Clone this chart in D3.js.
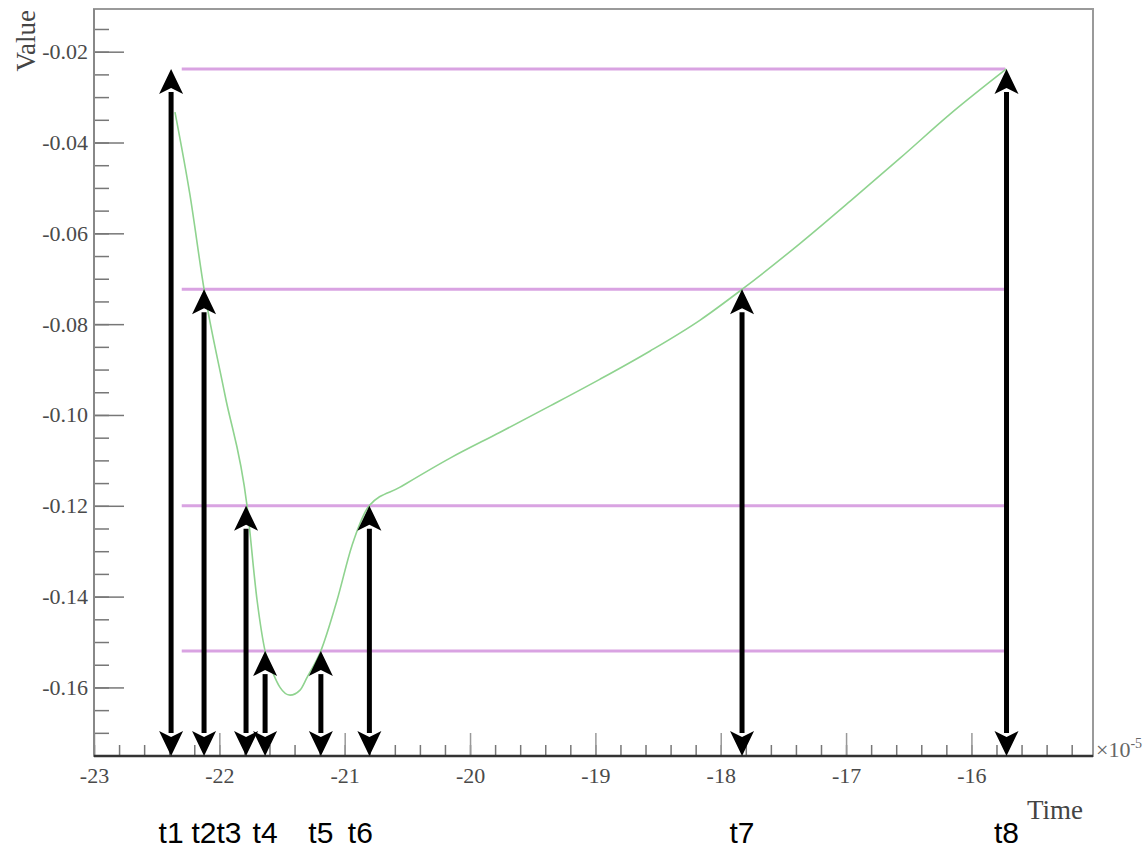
<!DOCTYPE html>
<html lang="en">
<head>
<meta charset="utf-8">
<title>Value vs Time</title>
<script src="https://cdn.jsdelivr.net/npm/d3@7"></script>
<style>
  body { margin: 0; background: #fff; }
  svg { display: block; }
  .tick text { font-family: "Liberation Serif", "DejaVu Serif", serif; fill: #4a4a4a; }
</style>
</head>
<body>
<script>
// curve (time in units of 1e-5, value)
var curveT = [-22.354, -22.234, -22.122, -21.955, -21.779, -21.699, -21.635, -21.571, -21.516, -21.436,
              -21.356, -21.300, -21.191, -21.061, -20.941, -20.805, -20.558, -20.159, -19.760, -19.361,
              -18.962, -18.563, -18.164, -17.828, -17.366, -16.967, -16.567, -16.168, -15.721];
var curveV = [-0.0333, -0.0516, -0.0723, -0.0956, -0.1200, -0.1408, -0.1520, -0.1569, -0.1600, -0.1617,
              -0.1606, -0.1578, -0.1520, -0.1408, -0.1287, -0.1200, -0.1159, -0.1095, -0.1038, -0.0980,
              -0.0921, -0.0859, -0.0791, -0.0723, -0.0622, -0.0529, -0.0434, -0.0337, -0.0238];

// threshold lines
var levels = [-0.0238, -0.0723, -0.12, -0.152];
var levelSpan = [-22.30, -15.73];

// crossing times marked by arrows
var markNames = ["t1", "t2", "t3", "t4", "t5", "t6", "t7", "t8"];
var markT = [-22.385, -22.122, -21.787, -21.635, -21.19, -20.803, -17.83, -15.72];
var markV = [-0.0238, -0.0723, -0.12, -0.152, -0.152, -0.12, -0.0723, -0.0238];
var markLabelShift = [0, 0, -17, 0, 0, -9, 0, 0];

var xMajor = d3.range(-23, -15.5, 1);
var xMinor = d3.range(-23, -15.05, 0.2).map(function(d) { return Math.round(d * 10) / 10; });
var yMajor = [-0.16, -0.14, -0.12, -0.10, -0.08, -0.06, -0.04, -0.02];
var yMinor = d3.range(-0.175, -0.0105, 0.005).map(function(d) { return Math.round(d * 1000) / 1000; });

var w = 1143, h = 848;
var pLeft = 94, pRight = 1093, pTop = 9, pBottom = 756;

var x = d3.scaleLinear().domain([-23, -15.03]).range([pLeft, pRight]);
var y = d3.scaleLinear().domain([-0.1751, -0.0106]).range([pBottom, pTop]);

var svg = d3.select("body").append("svg")
  .attr("width", w)
  .attr("height", h);

// frame
svg.append("rect")
  .attr("x", pLeft).attr("y", pTop)
  .attr("width", pRight - pLeft).attr("height", pBottom - pTop)
  .attr("fill", "none")
  .attr("stroke", "#9a9a9a")
  .attr("stroke-width", 2);

// x axis minor + major
svg.append("g")
  .attr("transform", "translate(0," + pBottom + ")")
  .call(d3.axisBottom(x).tickValues(xMinor).tickSize(-11).tickFormat(""))
  .call(function(g) { g.select(".domain").remove(); g.selectAll("line").attr("stroke", "#777").attr("stroke-width", 1.5); });

svg.append("g")
  .attr("transform", "translate(0," + pBottom + ")")
  .call(d3.axisBottom(x).tickValues(xMajor).tickSize(-23).tickPadding(11)
    .tickFormat(function(d) { return String(d); }))
  .call(function(g) {
    g.select(".domain").remove();
    g.selectAll("line").attr("stroke", "#999").attr("stroke-width", 1.5);
    g.selectAll("text").attr("font-size", 22).attr("y", 27).attr("dy", 0);
  });

// y axis minor + major
svg.append("g")
  .attr("transform", "translate(" + pLeft + ",0)")
  .call(d3.axisLeft(y).tickValues(yMinor).tickSize(-15).tickFormat(""))
  .call(function(g) { g.select(".domain").remove(); g.selectAll("line").attr("stroke", "#777").attr("stroke-width", 1.5); });

svg.append("g")
  .attr("transform", "translate(" + pLeft + ",0)")
  .call(d3.axisLeft(y).tickValues(yMajor).tickSize(-30).tickPadding(6)
    .tickFormat(function(d) { return d.toFixed(2); }))
  .call(function(g) {
    g.select(".domain").remove();
    g.selectAll("line").attr("stroke", "#777").attr("stroke-width", 1.5);
    g.selectAll("text").attr("font-size", 22).attr("x", -6).attr("dy", 7);
  });

// axis lines
svg.append("line")
  .attr("x1", pLeft).attr("x2", pLeft).attr("y1", pTop).attr("y2", pBottom)
  .attr("stroke", "#888").attr("stroke-width", 2);
svg.append("line")
  .attr("x1", pLeft).attr("x2", pRight).attr("y1", pBottom).attr("y2", pBottom)
  .attr("stroke", "#333").attr("stroke-width", 2.5);

// axis titles
svg.append("text")
  .attr("transform", "translate(35,10) rotate(-90)")
  .attr("text-anchor", "end")
  .attr("font-family", "Liberation Serif, serif")
  .attr("font-size", 27)
  .attr("fill", "#444")
  .text("Value");

svg.append("text")
  .attr("x", 1027).attr("y", 819)
  .attr("font-family", "Liberation Serif, serif")
  .attr("font-size", 27)
  .attr("fill", "#444")
  .text("Time");

var exp = svg.append("text")
  .attr("x", 1096).attr("y", 757)
  .attr("font-family", "Liberation Serif, serif")
  .attr("font-size", 22)
  .attr("fill", "#666")
  .text("×10");
exp.append("tspan").attr("dy", -9).attr("font-size", 14).text("-5");

// threshold lines
svg.selectAll(".level")
  .data(levels)
  .enter()
  .append("line")
  .attr("class", "level")
  .attr("x1", x(levelSpan[0]))
  .attr("x2", x(levelSpan[1]))
  .attr("y1", function(d) { return y(d); })
  .attr("y2", function(d) { return y(d); })
  .attr("stroke", "#d9a3e2")
  .attr("stroke-width", 3);

// curve
var pts = curveT.map(function(t, i) { return [t, curveV[i]]; });
svg.append("path")
  .datum(pts)
  .attr("d", d3.line()
    .x(function(d) { return x(d[0]); })
    .y(function(d) { return y(d[1]); })
    .curve(d3.curveMonotoneX))
  .attr("fill", "none")
  .attr("stroke", "#8fd38f")
  .attr("stroke-width", 1.6);

// double arrows
var headW = 12, headH = 25;
var arrows = svg.selectAll(".arrow")
  .data(markT)
  .enter()
  .append("g")
  .attr("class", "arrow");

arrows.append("line")
  .attr("x1", function(d) { return x(d); })
  .attr("x2", function(d) { return x(d); })
  .attr("y1", function(d, i) { return y(markV[i]) + headH - 2; })
  .attr("y2", pBottom - headH + 2)
  .attr("stroke", "#000")
  .attr("stroke-width", 5);

arrows.append("path")
  .attr("d", function(d, i) {
    var cx = x(d), ty = y(markV[i]);
    return "M" + cx + "," + ty + "L" + (cx + headW) + "," + (ty + headH) +
           "L" + cx + "," + (ty + headH - 6) + "L" + (cx - headW) + "," + (ty + headH) + "Z";
  })
  .attr("fill", "#000");

arrows.append("path")
  .attr("d", function(d) {
    var cx = x(d), by = pBottom;
    return "M" + cx + "," + by + "L" + (cx + headW) + "," + (by - headH) +
           "L" + cx + "," + (by - headH + 6) + "L" + (cx - headW) + "," + (by - headH) + "Z";
  })
  .attr("fill", "#000");

// labels under arrows
svg.selectAll(".mark-label")
  .data(markNames)
  .enter()
  .append("text")
  .attr("class", "mark-label")
  .attr("x", function(d, i) { return x(markT[i]) + markLabelShift[i]; })
  .attr("y", 843)
  .attr("text-anchor", "middle")
  .attr("font-family", "Liberation Sans, Arial, sans-serif")
  .attr("font-size", 30)
  .attr("fill", "#000")
  .text(function(d) { return d; });
</script>
</body>
</html>
